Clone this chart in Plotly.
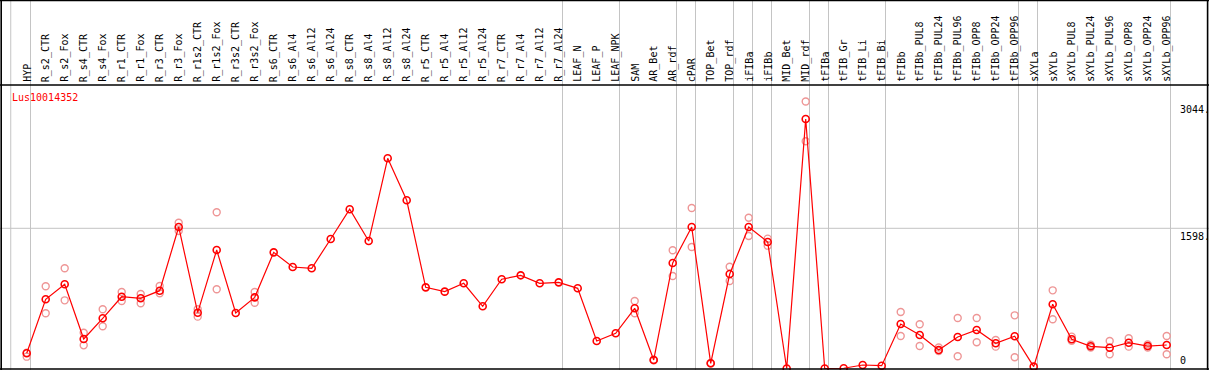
import plotly.graph_objects as go

W, H = 1209, 370

samples = ["HYP", "R_s2_CTR", "R_s2_Fox", "R_s4_CTR", "R_s4_Fox", "R_r1_CTR", "R_r1_Fox",
           "R_r3_CTR", "R_r3_Fox", "R_r1s2_CTR", "R_r1s2_Fox", "R_r3s2_CTR", "R_r3s2_Fox",
           "R_s6_CTR", "R_s6_Al4", "R_s6_Al12", "R_s6_Al24", "R_s8_CTR", "R_s8_Al4", "R_s8_Al12",
           "R_s8_Al24", "R_r5_CTR", "R_r5_Al4", "R_r5_Al12", "R_r5_Al24", "R_r7_CTR", "R_r7_Al4",
           "R_r7_Al12", "R_r7_Al24", "LEAF_N", "LEAF_P", "LEAF_NPK", "SAM", "AR_Bet", "AR_rdf",
           "cPAR", "TOP_Bet", "TOP_rdf", "iFIBa", "iFIBb", "MID_Bet", "MID_rdf", "tFIBa",
           "tFIB_Gr", "tFIB_Li", "tFIB_Bi", "tFIBb", "tFIBb_PUL8", "tFIBb_PUL24", "tFIBb_PUL96",
           "tFIBb_OPP8", "tFIBb_OPP24", "tFIBb_OPP96", "sXYLa", "sXYLb", "sXYLb_PUL8",
           "sXYLb_PUL24", "sXYLb_PUL96", "sXYLb_OPP8", "sXYLb_OPP24", "sXYLb_OPP96"]

mean_values = [173, 789, 960, 336, 572, 818, 800, 887, 1613, 636, 1351, 633, 811,
               1324, 1157, 1142, 1476, 1815, 1453, 2396, 1917, 925, 876, 971, 709,
               1017, 1062, 971, 982, 914, 313, 401, 686, 97, 1203, 1613, 59, 1077,
               1613, 1442, 0, 2844, 0, 3, 40, 32, 507, 382, 211, 359, 439, 287, 367,
               21, 732, 333, 253, 237, 294, 256, 268]

rep1_values = [180, 938, 1142, 408, 675, 872, 849, 940, 1662, 675, 1781, None, 872,
               None, None, None, None, None, None, None, None, None, None, None, None,
               None, None, None, None, None, None, None, 769, 100, 1347, 1829, 62, 1160,
               1719, 1480, None, 3044, None, None, None, None, 644, 504, 240, 576, 576, 325, 606,
               None, 891, 363, 270, 313, 344, 275, 370]

rep2_values = [135, 629, 777, 264, 481, 769, 743, 857, 1567, 591, 903, None, 750,
               None, None, None, None, None, None, None, None, None, None, None, None,
               None, None, None, None, None, None, None, 629, 94, 1054, 1385, 56, 997,
               1510, 1400, None, 2590, None, None, None, None, 370, 256, 200, 139, 299, 249, 128,
               None, 561, 315, 240, 162, 249, 240, 162]

group_ends = ["HYP", "R_r7_Al24", "LEAF_NPK", "AR_rdf", "cPAR", "TOP_rdf", "iFIBa", "iFIBb",
              "MID_rdf", "tFIBa", "tFIB_Bi", "tFIBb_OPP96", "sXYLa", "sXYLb_OPP96"]

gene_id = "Lus10014352"
tick_values = [3044, 1598, 0]
tick_labels = ["3044.", "1598.", "0"]

# pixel geometry
x0_px, step_px = 26.7, 19.0
y0_px, y_scale = 368.5, 140.2 / 1598.0


def px_to_x(px):
    return (px - x0_px) / step_px


def py_to_paper(py):
    return 1 - py / H


x_idx = list(range(len(samples)))
x_range = [px_to_x(0), px_to_x(W)]
y_range = [(y0_px - H) / y_scale, y0_px / y_scale]

fig = go.Figure()

rep_style = dict(symbol="circle-open", size=7, color="rgb(238,150,150)", line=dict(width=1.4))
fig.add_trace(go.Scatter(x=x_idx, y=rep1_values, mode="markers", marker=rep_style,
                         showlegend=False, hoverinfo="skip"))
fig.add_trace(go.Scatter(x=x_idx, y=rep2_values, mode="markers", marker=rep_style,
                         showlegend=False, hoverinfo="skip"))
fig.add_trace(go.Scatter(x=x_idx, y=mean_values, mode="lines+markers",
                         line=dict(color="red", width=1.2),
                         marker=dict(symbol="circle-open", size=7, color="red", line=dict(width=1.6)),
                         showlegend=False))

shapes = []
gray = "#c4c4c4"
# left edge divider
shapes.append(dict(type="line", xref="x", yref="paper", x0=-0.84, x1=-0.84, y0=0, y1=1,
                   line=dict(color=gray, width=1), layer="below"))
for name in group_ends:
    xi = samples.index(name) + 0.2
    shapes.append(dict(type="line", xref="x", yref="paper", x0=xi, x1=xi, y0=0, y1=1,
                       line=dict(color=gray, width=1), layer="below"))
# horizontal gridline at middle tick
shapes.append(dict(type="line", xref="paper", yref="y", x0=0, x1=1, y0=tick_values[1], y1=tick_values[1],
                   line=dict(color=gray, width=1), layer="below"))
# black frame
blk = dict(color="black", width=1.6)
shapes.append(dict(type="line", xref="paper", yref="paper", x0=0, x1=1, y0=py_to_paper(0.5), y1=py_to_paper(0.5), line=blk))
shapes.append(dict(type="line", xref="paper", yref="paper", x0=0, x1=1, y0=py_to_paper(85), y1=py_to_paper(85), line=blk))
shapes.append(dict(type="line", xref="paper", yref="paper", x0=0, x1=1, y0=py_to_paper(369), y1=py_to_paper(369), line=blk))
shapes.append(dict(type="line", xref="paper", yref="paper", x0=1.2 / W, x1=1.2 / W, y0=0, y1=1, line=blk))
shapes.append(dict(type="line", xref="paper", yref="paper", x0=1207.6 / W, x1=1207.6 / W, y0=0, y1=1, line=blk))

mono = "DejaVu Sans Mono"
annotations = []
for i, name in enumerate(samples):
    annotations.append(dict(x=i, y=py_to_paper(84), xref="x", yref="paper", text=name,
                            textangle=-90, showarrow=False, xanchor="center", yanchor="bottom",
                            font=dict(family=mono, size=10, color="black")))
annotations.append(dict(x=9.5 / W, y=py_to_paper(97), xref="paper", yref="paper", text=gene_id,
                        showarrow=False, xanchor="left", yanchor="middle",
                        font=dict(family=mono, size=10, color="red")))
for v, lab in zip(tick_values, tick_labels):
    annotations.append(dict(x=1177.5 / W, y=v, xref="paper", yref="y", text=lab, showarrow=False,
                            xanchor="left", yanchor=("bottom" if v == 0 else "top"),
                            yshift=(1 if v == 0 else -1),
                            font=dict(family=mono, size=10, color="black")))

fig.update_layout(
    width=W, height=H,
    margin=dict(l=0, r=0, t=0, b=0, pad=0),
    paper_bgcolor="white", plot_bgcolor="white",
    xaxis=dict(range=x_range, visible=False, showgrid=False, zeroline=False),
    yaxis=dict(range=y_range, visible=False, showgrid=False, zeroline=False),
    shapes=shapes, annotations=annotations,
)

fig.write_html("out.html", post_script="document.body.style.margin='0';document.body.style.overflow='hidden';",
               config={"displayModeBar": False})
